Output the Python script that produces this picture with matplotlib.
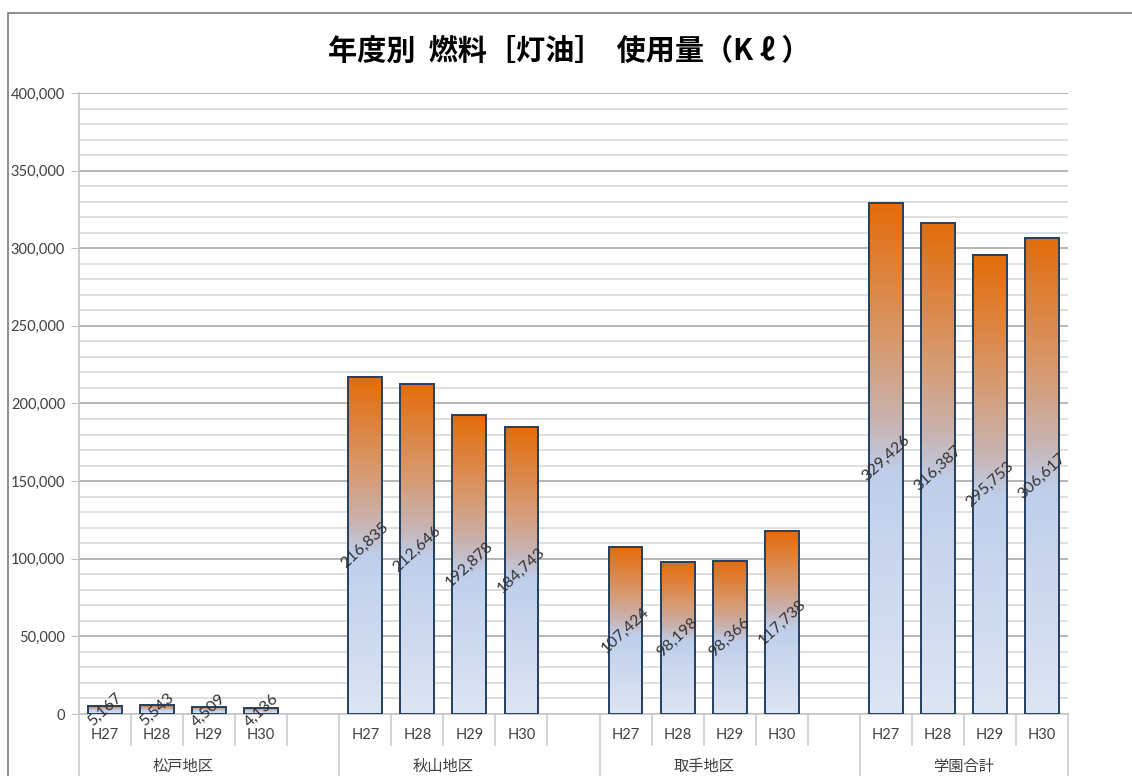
import numpy as np
import matplotlib.pyplot as plt
from matplotlib.colors import LinearSegmentedColormap
from matplotlib.patches import Rectangle

plt.rcParams['font.family'] = ['Lato', 'Noto Sans CJK JP', 'DejaVu Sans']

# data
groups = ['松戸地区', '秋山地区', '取手地区', '学園合計']
years = ['H27', 'H28', 'H29', 'H30']
matsudo = [5167, 5543, 4509, 4136]
akiyama = [216835, 212646, 192878, 184743]
toride = [107424, 98198, 98366, 117738]
gakuen = [329426, 316387, 295753, 306617]
title = '年度別  燃料［灯油］  使用量（K ℓ ）'

series = [matsudo, akiyama, toride, gakuen]

W, H = 1132, 776
fig = plt.figure(figsize=(W / 100, H / 100), dpi=100)
# outer chart border (only top/left visible)
fig.patches.append(Rectangle((8 / W, -0.2), 1.2, 0.2 + 1 - 13 / H, transform=fig.transFigure,
                             fill=False, edgecolor='#868686', linewidth=1.3))

ax = fig.add_axes([79 / W, 1 - 714 / H, (1068 - 79) / W, (714 - 93) / H])

cmap = LinearSegmentedColormap.from_list('grad', [
    (0.0, '#DEE5F3'), (0.47, '#BFCFEB'), (0.57, '#C8B3B0'),
    (0.72, '#D79A70'), (1.0, '#E46C0A')])
grad = np.linspace(0, 1, 256).reshape(-1, 1)

bw = 0.65
xs, xlabels = [], []
slot = 0
for gi, vals in enumerate(series):
    for yi, v in enumerate(vals):
        x = slot
        rect = Rectangle((x - bw / 2, 0), bw, v, facecolor='none', edgecolor='#243F60',
                         linewidth=1.4, zorder=4)
        ax.add_patch(rect)
        im = ax.imshow(grad, cmap=cmap, origin='lower', aspect='auto',
                       extent=[x - bw / 2, x + bw / 2, 0, v], zorder=3)
        im.set_clip_path(rect)
        ax.text(x, v / 2, f'{v:,}', rotation=43, ha='center', va='center',
                fontsize=11.5, color='#333333', zorder=5, rotation_mode='anchor')
        xs.append(x)
        xlabels.append(years[yi])
        slot += 1
    if gi < len(series) - 1:
        slot += 1
n_slots = slot

ax.set_xlim(-0.5, n_slots - 0.5)
ax.set_ylim(0, 400000)

ax.set_yticks(np.arange(0, 400001, 50000))
ax.set_yticks(np.arange(0, 400001, 10000), minor=True)
ax.set_yticklabels([f'{t:,}' for t in range(0, 400001, 50000)], fontsize=10.5, color='#404040')
ax.grid(axis='y', which='major', color='#B0B0B0', linewidth=1.3, zorder=0)
ax.grid(axis='y', which='minor', color='#DCDCDC', linewidth=1.3, zorder=0)
ax.tick_params(axis='y', which='major', length=6, color='#BFBFBF', pad=4)
ax.tick_params(axis='y', which='minor', length=0)
ax.set_axisbelow(True)

for s in ['top', 'right']:
    ax.spines[s].set_visible(False)
ax.spines['left'].set_color('#C8C8C8')
ax.spines['bottom'].set_color('#C8C8C8')
ax.spines['left'].set_linewidth(1.3)
ax.spines['bottom'].set_linewidth(1.3)

ax.set_xticks([])
trans = ax.get_xaxis_transform()
# category labels and separators
for x, lab in zip(xs, xlabels):
    ax.text(x, -0.034, lab, transform=trans, ha='center', va='center',
            fontsize=10.5, color='#404040', clip_on=False)
sep_short = -0.05
for b in range(n_slots + 1):
    xb = b - 0.5
    long = (b % 5 == 0) or b == n_slots
    ax.plot([xb, xb], [0, -0.2 if long else sep_short], transform=trans,
            color='#D0D0D0', linewidth=1.3, clip_on=False)
for gi, g in enumerate(groups):
    start = gi * 5
    end = min(start + 4, n_slots)
    cx = (start - 0.5 + end - 0.5) / 2
    ax.text(cx, -0.084, g, transform=trans, ha='center', va='center',
            fontsize=11, color='#404040', clip_on=False, family='Noto Sans CJK JP')

fig.text(569 / W, 1 - 51 / H, title, ha='center', va='center', fontsize=21,
         fontweight='bold', color='#000000', family=['Noto Sans CJK JP', 'DejaVu Sans'])

fig.savefig('out.png', dpi=100)
